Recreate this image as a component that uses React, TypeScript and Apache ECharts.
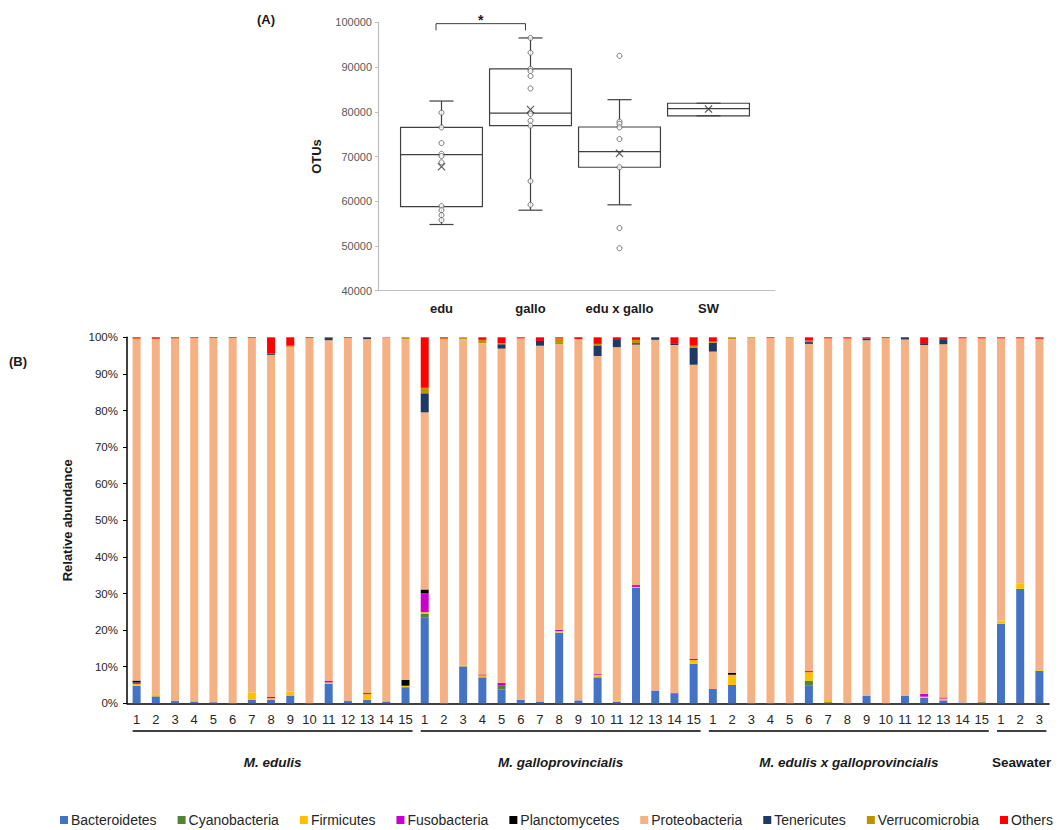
import React, { useEffect, useRef } from "react";
import * as echarts from "echarts";

// ---------- Panel A data ----------
const boxCategories = ["edu", "gallo", "edu x gallo", "SW"];
// [min, Q1, median, Q3, max]
const boxStats = [
  [54800, 58800, 70400, 76500, 82400],
  [58000, 76900, 79700, 89600, 96500],
  [59200, 67600, 71100, 76600, 82700],
  [79100, 79100, 80700, 81900, 81900],
];
const boxMeans = [67700, 80500, 70700, 80600];
const eduPoints = [79800, 76500, 73000, 70600, 70100, 68700, 58900, 58000, 56900, 55800];
const galloPoints = [96500, 93200, 89600, 89100, 88000, 85200, 79500, 78000, 76900, 64500, 59200];
const hybridPoints = [92500, 77800, 77300, 76500, 73900, 67600, 54000, 49500];
const swPoints: number[] = [];
const otuTicks = { min: 40000, max: 100000, interval: 10000 };

// ---------- Panel B data ----------
const edulisSamples = ["1","2","3","4","5","6","7","8","9","10","11","12","13","14","15"];
const galloSamples = ["1","2","3","4","5","6","7","8","9","10","11","12","13","14","15"];
const hybridSamples = ["1","2","3","4","5","6","7","8","9","10","11","12","13","14","15"];
const seawaterSamples = ["1","2","3"];
const groupNames = ["M. edulis", "M. galloprovincialis", "M. edulis x galloprovincialis", "Seawater"];
const groupItalic = [true, true, true, false];

const phyla = ["Bacteroidetes","Cyanobacteria","Firmicutes","Fusobacteria","Planctomycetes","Proteobacteria","Tenericutes","Verrucomicrobia","Others"];
const phylaColors = ["#4472C4","#548235","#FFC000","#CC00CC","#000000","#F4B183","#203864","#BF9000","#FF0000"];

const bacteroidetes = [4.8,1.9,0.6,0.5,0.3,0,1.0,1.0,2.0,0,5.3,0.6,1.0,0.5,4.4, 23.5,0,10.1,7.1,3.8,1.0,0.5,19.3,0.8,7.1,0.5,31.5,3.5,2.7,10.8, 3.9,5.0,0,0,0,4.8,0,0,2.1,0,2.1,1.5,0.8,0.2,0, 21.7,31.3,8.9];
const cyanobacteria = [0,0,0,0,0,0,0,0,0,0,0,0,0,0,0, 0.9,0,0,0,1.0,0,0,0,0,0,0,0,0,0,0, 0,0,0,0,0,1.4,0.3,0,0,0,0,0,0,0,0.3, 0,0,0];
const firmicutes = [0.5,0.6,0,0,0,0,2.0,0.4,1.2,0,0.4,0,1.5,0,0.4, 0.5,0,0.3,0.5,0,0,0,0.4,0,0.7,0.3,0.3,0,0,1.0, 0,2.8,0,0,0,2.3,0.6,0,0,0,0,0.3,0.5,0,0, 0.9,1.5,0.2];
const fusobacteria = [0.4,0,0,0,0,0,0,0.4,0,0,0.5,0,0.3,0,0, 5.2,0,0,0.3,0.8,0,0,0.4,0,0.3,0,0.5,0,0.2,0.4, 0,0,0,0,0,0.3,0,0,0,0,0,0.8,0.3,0,0, 0,0,0];
const planctomycetes = [0.5,0,0,0,0,0,0,0,0,0,0,0,0,0,1.6, 1.0,0,0,0,0,0,0,0,0,0,0,0,0,0,0, 0,0.5,0,0,0,0,0,0,0,0,0,0,0,0,0, 0,0,0];
const proteobacteria = [93.2,97.1,99.0,99.3,99.5,99.8,96.8,93.4,94.2,99.8,93.0,99.2,96.7,99.4,93.1, 48.4,99.4,89.1,90.5,91.3,98.7,97.2,78.0,98.7,86.8,96.5,65.7,95.8,95.0,80.3, 92.2,91.2,99.8,99.8,99.8,89.4,98.8,99.7,97.1,99.8,97.3,95.3,96.5,99.5,99.4, 77.1,66.9,90.5];
const tenericutes = [0,0,0,0,0,0,0,0.4,0,0,0.6,0,0.5,0,0, 5.2,0,0,0,1.2,0,1.3,0,0,2.9,2.2,0.4,0.7,0.3,4.7, 2.4,0,0,0,0,0.5,0,0,0.5,0,0.6,0.5,1.4,0,0, 0,0,0];
const verrucomicrobia = [0.3,0,0.2,0,0,0,0,0,0.3,0,0,0,0,0,0.5, 1.5,0.3,0.5,0.9,0.3,0,0,1.6,0,0.4,0,0.9,0,0,0.5, 0.3,0.5,0.2,0,0.2,0.4,0,0,0,0,0,0,0,0,0, 0,0,0];
const others = [0.3,0.4,0.2,0.2,0.2,0.2,0.2,4.4,2.3,0.2,0.2,0.2,0,0.1,0, 13.8,0.3,0,0.7,1.6,0.3,1.0,0.3,0.5,1.8,0.5,0.7,0,1.8,2.3, 1.2,0,0,0.2,0,0.9,0.3,0.3,0.3,0.2,0,1.6,0.5,0.3,0.3, 0.3,0.3,0.4];
const phylaValues = [bacteroidetes, cyanobacteria, firmicutes, fusobacteria, planctomycetes, proteobacteria, tenericutes, verrucomicrobia, others];
const percentTicks = { min: 0, max: 100, interval: 10 };

const groupSamples = [edulisSamples, galloSamples, hybridSamples, seawaterSamples];
const categories: string[] = [];
groupSamples.forEach((g, gi) => g.forEach((s) => categories.push(gi + "-" + s)));

const FONT = "Liberation Sans, Arial, sans-serif";
const X_MARK = "path://M0,1L1,0L5,4L9,0L10,1L6,5L10,9L9,10L5,6L1,10L0,9L4,5Z";

function buildOption(): any {
  const pointData: any[] = [];
  [eduPoints, galloPoints, hybridPoints, swPoints].forEach((arr, i) =>
    arr.forEach((v) => pointData.push([i, v]))
  );
  return {
    animation: false,
    textStyle: { fontFamily: FONT },
    grid: [
      { left: 378, top: 22.3, width: 397, height: 268.4 },
      { left: 397, top: 22.3, width: 356, height: 268.4 },
      { left: 127, top: 337.3, width: 922, height: 366 },
    ],
    legend: {
      data: phyla,
      left: 56,
      top: 809,
      padding: 4,
      icon: "rect",
      itemWidth: 8,
      itemHeight: 8,
      itemGap: 21,
      textStyle: { fontSize: 14, color: "#262626", fontFamily: FONT, padding: [0, 0, 0, -2] },
    },
    xAxis: [
      {
        gridIndex: 0, type: "value", min: 0, max: 1,
        axisLine: { show: true, lineStyle: { color: "#bfbfbf", width: 1.2 } },
        axisTick: { show: false }, axisLabel: { show: false }, splitLine: { show: false },
      },
      {
        gridIndex: 1, type: "category", data: boxCategories,
        axisLine: { show: false }, axisTick: { show: false }, splitLine: { show: false },
        axisLabel: { fontSize: 13, fontWeight: "bold", color: "#1a1a1a", margin: 11 },
      },
      {
        gridIndex: 2, type: "category", data: categories,
        axisLine: { show: true, lineStyle: { color: "#000", width: 1.5 } },
        axisTick: { show: false },
        axisLabel: {
          interval: 0, fontSize: 13, color: "#262626", margin: 10,
          formatter: (v: string) => v.split("-")[1],
        },
      },
    ],
    yAxis: [
      {
        gridIndex: 0, type: "value", min: otuTicks.min, max: otuTicks.max, interval: otuTicks.interval,
        axisLine: { show: true, lineStyle: { color: "#bfbfbf", width: 1.2 } },
        axisTick: { show: true, length: 3, lineStyle: { color: "#bfbfbf" } },
        axisLabel: { fontSize: 11, color: "#595959", margin: 6, formatter: (v: number) => String(v) },
        splitLine: { show: false },
        name: "OTUs", nameLocation: "middle", nameGap: 55,
        nameTextStyle: { fontSize: 13, fontWeight: "bold", color: "#1a1a1a" },
      },
      {
        gridIndex: 1, type: "value", min: otuTicks.min, max: otuTicks.max, show: false,
      },
      {
        gridIndex: 2, type: "value", min: percentTicks.min, max: percentTicks.max, interval: percentTicks.interval,
        axisLine: { show: true, lineStyle: { color: "#000", width: 1.5 } },
        axisTick: { show: true, length: 4, lineStyle: { color: "#000" } },
        axisLabel: { fontSize: 11.5, color: "#262626", margin: 9, formatter: "{value}%" },
        splitLine: { show: false },
        name: "Relative abundance", nameLocation: "middle", nameGap: 53,
        nameTextStyle: { fontSize: 13, fontWeight: "bold", color: "#1a1a1a" },
      },
    ],
    series: [
      {
        type: "custom",
        xAxisIndex: 1, yAxisIndex: 1,
        data: boxStats.map((s, i) => [i, ...s]),
        encode: { x: 0, y: [1, 2, 3, 4, 5] },
        renderItem: (params: any, api: any) => {
          const idx = api.value(0);
          const pMin = api.coord([idx, api.value(1)]);
          const pQ1 = api.coord([idx, api.value(2)]);
          const pMed = api.coord([idx, api.value(3)]);
          const pQ3 = api.coord([idx, api.value(4)]);
          const pMax = api.coord([idx, api.value(5)]);
          const band = api.size([1, 0])[0];
          const bw = band * 0.92;
          const cw = band * 0.27;
          const cx = pMed[0];
          const st = { stroke: "#404040", lineWidth: 1.2, fill: null };
          return {
            type: "group",
            children: [
              { type: "line", shape: { x1: cx, y1: pMax[1], x2: cx, y2: pQ3[1] }, style: st },
              { type: "line", shape: { x1: cx, y1: pQ1[1], x2: cx, y2: pMin[1] }, style: st },
              { type: "line", shape: { x1: cx - cw / 2, y1: pMax[1], x2: cx + cw / 2, y2: pMax[1] }, style: st },
              { type: "line", shape: { x1: cx - cw / 2, y1: pMin[1], x2: cx + cw / 2, y2: pMin[1] }, style: st },
              { type: "rect", shape: { x: cx - bw / 2, y: pQ3[1], width: bw, height: pQ1[1] - pQ3[1] }, style: { stroke: "#404040", lineWidth: 1.2, fill: "rgba(255,255,255,0)" } },
              { type: "line", shape: { x1: cx - bw / 2, y1: pMed[1], x2: cx + bw / 2, y2: pMed[1] }, style: st },
            ],
          };
        },
        z: 2,
      },
      {
        type: "scatter",
        xAxisIndex: 1, yAxisIndex: 1,
        data: pointData,
        symbol: "circle", symbolSize: 5,
        itemStyle: { color: "#ffffff", borderColor: "#595959", borderWidth: 1 },
        z: 3,
      },
      {
        type: "scatter",
        xAxisIndex: 1, yAxisIndex: 1,
        data: boxMeans.map((v, i) => [i, v]),
        symbol: X_MARK, symbolSize: 8,
        itemStyle: { color: "#303030" },
        z: 4,
      },
      ...phyla.map((name, i) => ({
        name,
        type: "bar",
        stack: "total",
        xAxisIndex: 2, yAxisIndex: 2,
        barWidth: 8,
        data: phylaValues[i],
        itemStyle: { color: phylaColors[i] },
      })),
    ],
  };
}

export default function App() {
  const ref = useRef<HTMLDivElement>(null);
  useEffect(() => {
    const chart = echarts.init(ref.current!, null, { renderer: "svg" });
    chart.setOption(buildOption());

    const gfx: any[] = [];
    gfx.push({ type: "text", x: 257, y: 19, style: { text: "(A)", fontSize: 13, fontWeight: "bold", fill: "#1a1a1a", fontFamily: FONT, verticalAlign: "middle" } });
    gfx.push({ type: "text", x: 9, y: 361, style: { text: "(B)", fontSize: 13, fontWeight: "bold", fill: "#1a1a1a", fontFamily: FONT, verticalAlign: "middle" } });

    // significance bracket between edu and gallo
    const pA = chart.convertToPixel({ gridIndex: 1 } as any, [0, 99700]) as number[];
    const pB = chart.convertToPixel({ gridIndex: 1 } as any, [1, 99700]) as number[];
    const pLeg = chart.convertToPixel({ gridIndex: 1 } as any, [0, 98200]) as number[];
    const bx1 = pA[0] - 5.5, bx2 = pB[0] - 5;
    gfx.push({
      type: "polyline",
      shape: { points: [[bx1, pLeg[1]], [bx1, pA[1]], [bx2, pA[1]], [bx2, pLeg[1]]] },
      style: { stroke: "#404040", lineWidth: 1, fill: null },
    });
    gfx.push({ type: "text", x: (bx1 + bx2) / 2, y: pA[1] - 4, style: { text: "*", fontSize: 14, fontWeight: "bold", fill: "#1a1a1a", fontFamily: FONT, align: "center", verticalAlign: "middle" } });

    // group underlines and labels
    let start = 0;
    groupSamples.forEach((g, gi) => {
      const end = start + g.length - 1;
      const ps = chart.convertToPixel({ gridIndex: 2 } as any, [start, 0]) as number[];
      const pe = chart.convertToPixel({ gridIndex: 2 } as any, [end, 0]) as number[];
      const x1 = ps[0] - 4, x2 = pe[0] + 7;
      gfx.push({ type: "line", shape: { x1, y1: 731, x2, y2: 731 }, style: { stroke: "#000", lineWidth: 1.5 } });
      gfx.push({
        type: "text", x: (x1 + x2) / 2, y: 762,
        style: {
          text: groupNames[gi], fontSize: 13.5, fontWeight: "bold", fontStyle: groupItalic[gi] ? "italic" : "normal",
          fill: "#1a1a1a", fontFamily: FONT, align: "center", verticalAlign: "middle",
        },
      });
      start = end + 1;
    });
    chart.setOption({ graphic: gfx });
    return () => chart.dispose();
  }, []);
  return <div ref={ref} style={{ position: "fixed", left: 0, top: 0, width: 1062, height: 830, background: "#fff" }} />;
}
